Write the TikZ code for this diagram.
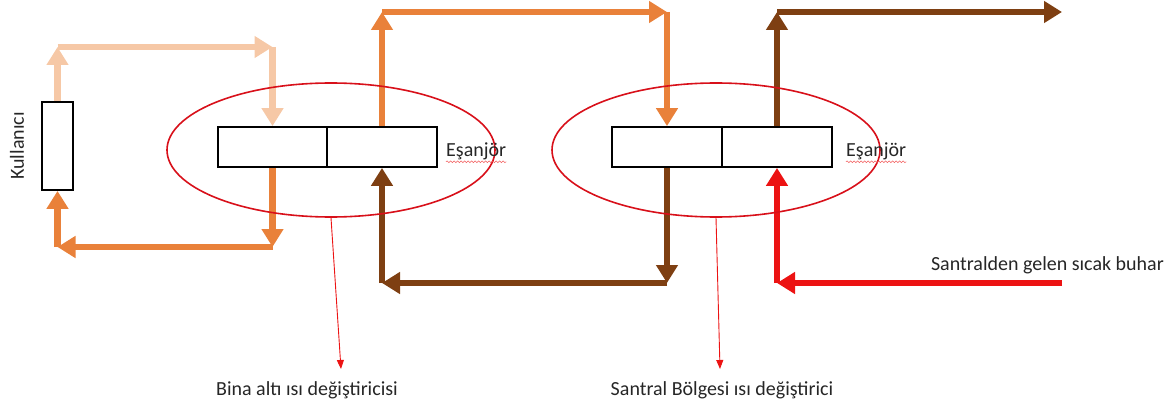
\documentclass[tikz,border=0pt]{standalone}
\usepackage{fontspec}
\setmainfont{Carlito}
\usetikzlibrary{arrows.meta,shapes.geometric,decorations.pathmorphing}
\definecolor{peach}{HTML}{F6C8A6}
\definecolor{orng}{HTML}{E9813A}
\definecolor{brwn}{HTML}{7E3F12}
\definecolor{hot}{HTML}{EC1313}
\definecolor{zonered}{HTML}{D8101A}
\definecolor{txt}{HTML}{262626}
\begin{document}
\begin{tikzpicture}[x=1pt,y=-1pt,
  font=\fontsize{20}{23}\selectfont\color{txt},
  pipe/.style={line width=6.5pt,-{Triangle[length=18pt,width=21pt]}},
  hx/.style={draw=black,line width=1.8pt,minimum height=40pt,inner sep=0pt,fill=white},
  zone/.style={draw=zonered,line width=1.6pt,ellipse,minimum width=328pt,minimum height=134pt,inner sep=0pt},
  pointer/.style={draw=hot,line width=0.9pt,-{Triangle[length=9pt,width=7pt]}},
  squig/.style={draw=hot!70,line width=0.5pt,decorate,decoration={snake,amplitude=0.9pt,segment length=3.5pt}},
  lbl/.style={inner sep=0pt}]
\useasboundingbox (0,0) rectangle (1174,409);

% heat exchangers
\node[hx,minimum width=109pt] (b1a) at (272.5,147) {};
\node[hx,minimum width=110pt] (b1b) at (382,147) {};
\node[hx,minimum width=110pt] (b2a) at (667,147) {};
\node[hx,minimum width=110pt] (b2b) at (777,147) {};
% user
\node[hx,minimum width=31pt,minimum height=88pt] (kul) at (57.5,146) {};
\node[lbl,rotate=90] (kultxt) at (17,146) {Kullanıcı};

% corner coordinates
\coordinate (c1) at (57.5,47);
\coordinate (c2) at (b1a.north |- c1);
\coordinate (c3) at (b1a.south |- 0,247);
\coordinate (c4) at (kul.south |- c3);
\coordinate (c5) at (b1b.north |- 0,12);
\coordinate (c6) at (b2a.north |- c5);
\coordinate (c7) at (b2a.south |- 0,283);
\coordinate (c8) at (b1b.south |- c7);
\coordinate (c9) at (b2b.north |- c5);
\coordinate (outend) at (1062,12);
\coordinate (steam) at (1062,283);
\coordinate (c10) at (b2b.south |- steam);

% user loop
\draw[pipe,peach] (kul.north) -- (c1);
\draw[pipe,peach] (c1) -- (c2);
\draw[pipe,peach] (c2) -- (b1a.north);
\draw[pipe,orng] (b1a.south) -- (c3);
\draw[pipe,orng] (c3) -- (c4);
\draw[pipe,orng] (c4) -- (kul.south);
% middle loop
\draw[pipe,orng] (b1b.north) -- (c5);
\draw[pipe,orng] (c5) -- (c6);
\draw[pipe,orng] (c6) -- (b2a.north);
\draw[pipe,brwn] (b2a.south) -- (c7);
\draw[pipe,brwn] (c7) -- (c8);
\draw[pipe,brwn] (c8) -- (b1b.south);
% plant loop
\draw[pipe,brwn] (b2b.north) -- (c9);
\draw[pipe,brwn] (c9) -- (outend);
\draw[pipe,hot] (steam) -- (c10);
\draw[pipe,hot] (c10) -- (b2b.south);

% zones
\node[zone] (z1) at (331,150) {};
\node[zone] (z2) at (716,150) {};

% labels
\node[lbl,anchor=west] (e1) at (446,151) {Eşanjör};
\node[lbl,anchor=west] (e2) at (846,151) {Eşanjör};
\draw[squig] ([yshift=-2pt]e1.south west) -- ([yshift=-2pt]e1.south east);
\draw[squig] ([yshift=-2pt]e2.south west) -- ([yshift=-2pt]e2.south east);
\node[lbl,anchor=east] (st) at (1164,265) {Santralden gelen sıcak buhar};
\node[lbl] (l1) at (307,390) {Bina altı ısı değiştiricisi};
\node[lbl] (l2) at (722,390) {Santral Bölgesi ısı değiştirici};
\coordinate (p1) at (341,369);
\coordinate (p2) at (720,369);
\draw[pointer] (z1.south) -- (p1);
\draw[pointer] (z2.south) -- (p2);
\end{tikzpicture}
\end{document}
